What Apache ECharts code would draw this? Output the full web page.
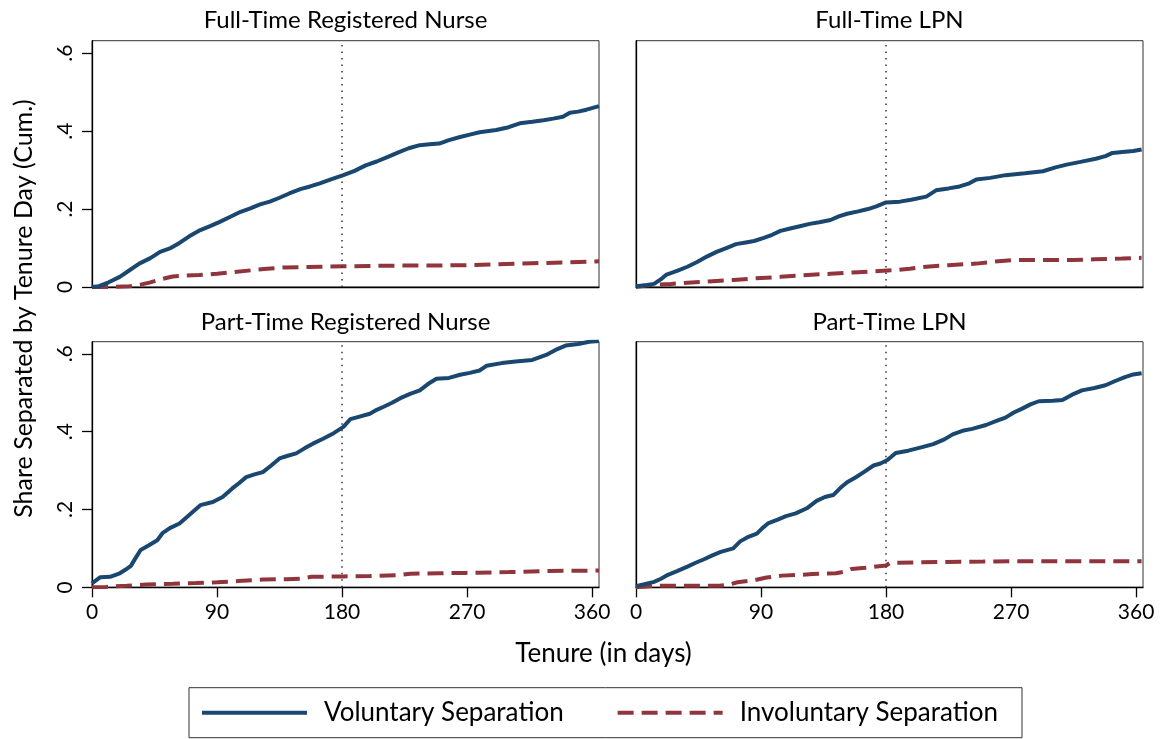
<!DOCTYPE html>
<html>
<head>
<meta charset="utf-8">
<script src="https://cdn.jsdelivr.net/npm/echarts@6/dist/echarts.min.js"></script>
<style>
html,body{margin:0;padding:0;background:#fff;}
#chart{width:1168px;height:739px;}
</style>
</head>
<body>
<div id="chart"></div>
<script>
// ---- Data ----
var panelTitles = ['Full-Time Registered Nurse', 'Full-Time LPN', 'Part-Time Registered Nurse', 'Part-Time LPN'];
var seriesNames = ['Voluntary Separation', 'Involuntary Separation'];
var xTicks = [0, 90, 180, 270, 360];
var yTicks = [0, 0.2, 0.4, 0.6];
var yTickLabels = ['0', '.2', '.4', '.6'];

// Full-Time Registered Nurse
var ftrnVolDays = [0,5,12,20,27,34,42,49,56,63,70,78,85,92,100,107,114,121,128,135,142,150,157,164,172,181,189,197,205,213,221,228,236,243,250,257,265,272,279,291,300,308,317,325,332,339,344,350,356,365];
var ftrnVol     = [0,0.002,0.012,0.026,0.043,0.06,0.074,0.09,0.099,0.113,0.13,0.146,0.156,0.167,0.181,0.193,0.202,0.212,0.219,0.229,0.24,0.251,0.258,0.266,0.276,0.287,0.298,0.312,0.322,0.334,0.346,0.356,0.364,0.366,0.368,0.377,0.385,0.391,0.397,0.403,0.41,0.42,0.424,0.428,0.432,0.437,0.447,0.45,0.455,0.464];
var ftrnInvDays = [0,15,27,35,42,50,58,65,77,90,102,115,126,138,150,165,181,200,221,245,269,290,317,340,365];
var ftrnInv     = [0,0,0.002,0.006,0.012,0.02,0.027,0.029,0.031,0.034,0.038,0.043,0.047,0.05,0.051,0.052,0.053,0.054,0.055,0.055,0.056,0.058,0.061,0.063,0.066];

// Full-Time LPN
var ftlpnVolDays = [0,8,13,18,22,30,37,44,51,58,65,72,80,85,92,98,104,111,118,125,132,140,146,152,160,167,173,180,190,198,209,216,225,233,240,245,255,266,280,293,302,310,320,331,338,343,352,358,364];
var ftlpnVol     = [0.002,0.005,0.008,0.02,0.032,0.042,0.052,0.064,0.078,0.09,0.1,0.11,0.115,0.118,0.126,0.134,0.144,0.15,0.156,0.162,0.166,0.172,0.181,0.188,0.194,0.2,0.207,0.217,0.219,0.224,0.232,0.248,0.253,0.258,0.266,0.276,0.28,0.287,0.292,0.297,0.307,0.314,0.321,0.329,0.336,0.344,0.347,0.349,0.353];
var ftlpnInvDays = [0,6,12,25,37,55,70,85,104,120,140,160,175,185,197,209,225,245,258,271,290,314,330,350,364];
var ftlpnInv     = [0,0.003,0.005,0.008,0.011,0.015,0.018,0.022,0.026,0.03,0.034,0.038,0.041,0.043,0.047,0.052,0.056,0.06,0.065,0.069,0.069,0.069,0.071,0.073,0.075];

// Part-Time Registered Nurse
var ptrnVolDays = [0,6,13,20,24,28,31,35,41,47,51,56,63,70,78,87,94,101,106,111,117,123,129,135,141,147,153,159,166,174,181,186,192,200,205,210,216,222,229,236,243,248,257,265,272,279,284,295,305,317,327,335,341,350,358,365];
var ptrnVol     = [0.01,0.026,0.027,0.036,0.045,0.055,0.073,0.096,0.108,0.121,0.14,0.152,0.164,0.186,0.211,0.219,0.232,0.254,0.268,0.283,0.29,0.296,0.313,0.331,0.338,0.344,0.357,0.369,0.381,0.396,0.412,0.432,0.438,0.446,0.456,0.464,0.474,0.486,0.497,0.506,0.525,0.536,0.538,0.546,0.551,0.557,0.569,0.576,0.58,0.584,0.597,0.612,0.621,0.625,0.631,0.633];
var ptrnInvDays = [0,10,25,39,58,75,90,105,123,140,150,158,181,200,221,229,250,269,300,329,365];
var ptrnInv     = [0,0.001,0.004,0.007,0.009,0.011,0.013,0.016,0.02,0.021,0.022,0.027,0.028,0.029,0.031,0.035,0.036,0.037,0.039,0.042,0.043];

// Part-Time LPN
var ptlpnVolDays = [0,6,13,18,23,30,37,43,49,55,61,70,75,80,87,91,95,102,108,115,123,130,136,142,147,152,158,164,171,176,181,187,196,206,214,222,228,235,242,252,260,266,272,278,284,290,300,307,314,321,330,338,345,352,358,364];
var ptlpnVol     = [0.003,0.008,0.014,0.022,0.032,0.042,0.053,0.063,0.072,0.082,0.091,0.1,0.118,0.128,0.138,0.152,0.164,0.174,0.183,0.19,0.203,0.222,0.232,0.237,0.255,0.27,0.282,0.296,0.313,0.318,0.327,0.345,0.351,0.36,0.368,0.38,0.393,0.402,0.407,0.417,0.428,0.436,0.449,0.459,0.47,0.478,0.479,0.481,0.495,0.506,0.512,0.519,0.53,0.54,0.547,0.55];
var ptlpnInvDays = [0,10,20,40,60,66,73,85,94,105,118,127,144,150,155,165,175,180,183,200,223,250,271,300,364];
var ptlpnInv     = [0,0.003,0.004,0.004,0.004,0.006,0.013,0.018,0.025,0.03,0.032,0.034,0.036,0.04,0.047,0.05,0.054,0.056,0.063,0.064,0.065,0.066,0.067,0.067,0.067];

var volData = [[ftrnVolDays, ftrnVol], [ftlpnVolDays, ftlpnVol], [ptrnVolDays, ptrnVol], [ptlpnVolDays, ptlpnVol]];
var invData = [[ftrnInvDays, ftrnInv], [ftlpnInvDays, ftlpnInv], [ptrnInvDays, ptrnInv], [ptlpnInvDays, ptlpnInv]];
var markerDay = 180;

// ---- Build chart ----
function zip(d) { return d[0].map(function (x, i) { return [x, d[1][i]]; }); }

var FONT = 'Lato';
var NAVY = '#1a476f', MAROON = '#90353b';

var grids = [
  { left: 92, top: 40.7, width: 507, height: 246.3 },
  { left: 636, top: 40.7, width: 507, height: 246.3 },
  { left: 92, top: 341.7, width: 507, height: 245.6 },
  { left: 636, top: 341.7, width: 507, height: 245.6 }
];
var yMax = [0.632, 0.632, 0.631, 0.631];

var xAxes = [], yAxes = [], series = [], graphics = [];
for (var i = 0; i < 4; i++) {
  var isBottom = i >= 2, isLeft = (i % 2) === 0;
  grids[i].show = true;
  grids[i].borderColor = '#333';
  grids[i].borderWidth = 1;
  grids[i].backgroundColor = '#fff';
  xAxes.push({
    type: 'value', gridIndex: i, min: 0, max: 365,
    axisLine: { show: true, onZero: false, lineStyle: { color: '#000', width: 1.3 } },
    axisTick: { show: isBottom, length: 10, customValues: xTicks, lineStyle: { color: '#000', width: 1.3 } },
    axisLabel: { show: isBottom, customValues: xTicks, margin: 14, fontFamily: FONT, fontSize: 21, color: '#000' },
    splitLine: { show: false }
  });
  yAxes.push({
    type: 'value', gridIndex: i, min: 0, max: yMax[i],
    axisLine: { show: true, onZero: false, lineStyle: { color: '#000', width: 1.3 } },
    axisTick: { show: isLeft, length: 10, customValues: yTicks, lineStyle: { color: '#000', width: 1.3 } },
    axisLabel: {
      show: isLeft, customValues: yTicks, rotate: 90, margin: 16,
      fontFamily: FONT, fontSize: 21, color: '#000',
      formatter: function (v) {
        for (var k = 0; k < yTicks.length; k++) if (Math.abs(v - yTicks[k]) < 1e-9) return yTickLabels[k];
        return '';
      }
    },
    splitLine: { show: false }
  });
  series.push({
    name: seriesNames[1], type: 'line', xAxisIndex: i, yAxisIndex: i,
    data: zip(invData[i]), showSymbol: false, symbol: 'none', silent: true,
    lineStyle: { color: MAROON, width: 4, type: [16, 8] }, itemStyle: { color: MAROON }, z: 3
  });
  series.push({
    name: seriesNames[0], type: 'line', xAxisIndex: i, yAxisIndex: i,
    data: zip(volData[i]), showSymbol: false, symbol: 'none', silent: true,
    lineStyle: { color: NAVY, width: 4 }, itemStyle: { color: NAVY }, z: 4,
    markLine: {
      silent: true, symbol: 'none', label: { show: false }, animation: false,
      lineStyle: { color: '#333', width: 1.5, type: [1.5, 5] },
      data: [{ xAxis: markerDay }]
    }
  });
  var cx = grids[i].left + grids[i].width / 2;
  graphics.push({
    type: 'text', x: cx, y: isBottom ? 322 : 20.5,
    style: { text: panelTitles[i], font: '24px ' + FONT, fill: '#000', textAlign: 'center', textVerticalAlign: 'middle' }
  });
}

graphics.push({
  type: 'text', x: 24, y: 308.5, rotation: Math.PI / 2,
  style: { text: 'Share Separated by Tenure Day (Cum.)', font: '25px ' + FONT, fill: '#000', textAlign: 'center', textVerticalAlign: 'middle' }
});
graphics.push({
  type: 'text', x: 603.5, y: 654,
  style: { text: 'Tenure (in days)', font: '26px ' + FONT, fill: '#000', textAlign: 'center', textVerticalAlign: 'middle' }
});

var option = {
  animation: false,
  backgroundColor: '#fff',
  grid: grids,
  xAxis: xAxes,
  yAxis: yAxes,
  series: series,
  legend: {
    data: seriesNames,
    left: 189, top: 687.7,
    orient: 'horizontal',
    itemWidth: 105, itemHeight: 20, itemGap: 52,
    padding: [12, 24, 12, 11],
    borderColor: '#333', borderWidth: 1,
    backgroundColor: '#fff',
    selectedMode: false,
    lineStyle: { width: 4 },
    itemStyle: { opacity: 0 },
    textStyle: { fontFamily: FONT, fontSize: 26, color: '#000', padding: [0, 0, 0, 12] }
  },
  graphic: graphics
};

var chart = echarts.init(document.getElementById('chart'), null, { renderer: 'canvas' });
chart.setOption(option);
</script>
</body>
</html>
